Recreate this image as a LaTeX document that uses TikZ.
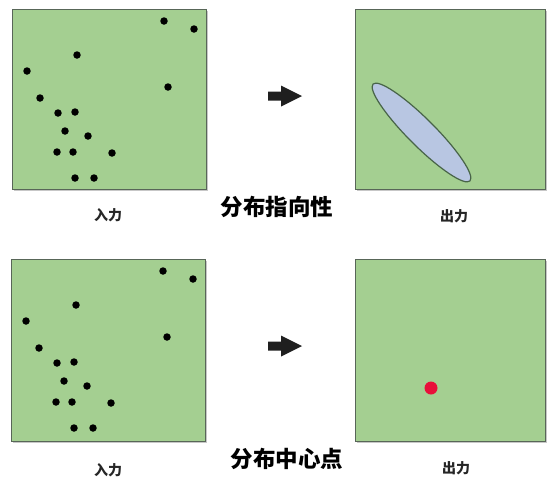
\documentclass[tikz,border=0pt]{standalone}
\usepackage{fontspec}
\newfontfamily\cjk{Noto Sans CJK SC}
\usetikzlibrary{shapes.geometric}
\definecolor{panelgreen}{RGB}{164,207,145}
\definecolor{panelborder}{RGB}{88,102,88}
\definecolor{ellfill}{RGB}{184,198,226}
\definecolor{ellborder}{RGB}{72,100,72}
\definecolor{reddot}{RGB}{232,16,58}
\begin{document}
\begin{tikzpicture}[x=1pt,y=-1pt,
  panel/.style={draw=panelborder, line width=1.4pt, fill=panelgreen, inner sep=0pt,
    minimum width=194pt, minimum height=180pt, anchor=north west},
  shade box/.style={fill=black!22},
  pt/.style={circle, fill=black, inner sep=0pt, minimum size=7.5pt},
  small/.style={font=\cjk\bfseries\fontsize{14}{16}\selectfont, text=black!85, inner sep=0pt},
  title/.style={font=\cjk\bfseries\fontsize{22.5}{26}\selectfont, inner sep=0pt},
  blockarrow/.style={fill=black!88}]
\useasboundingbox (0,0) rectangle (547,491);
\fill[white] (0,0) rectangle (547,491);
% shadows
\fill[shade box] (14,11) rectangle (208,191);
\fill[shade box] (357,11) rectangle (547,191);
\fill[shade box] (13,261) rectangle (207,443);
\fill[shade box] (357,261) rectangle (547,443);
% panels
\node[panel] (in1) at (12,9) {};
\node[panel, minimum width=190pt] (out1) at (355,9) {};
\node[panel, minimum height=182pt] (in2) at (11,259) {};
\node[panel, minimum width=190pt, minimum height=182pt] (out2) at (355,259) {};
% dots
\foreach \x/\y [count=\i] in {164/21,194/29,77/55,27/71,168/87,40/98,58/113,75/112,65/131,88/136,57/152,73/152,112/153,75/178,94/178}{
  \node[pt] (a\i) at (\x,\y) {};
  \node[pt] (b\i) at (\x-1,{\y+250}) {};
}
% ellipse
\node[ellipse, draw=ellborder, fill=ellfill, line width=1.2pt, inner sep=0pt,
  minimum width=137pt, minimum height=27pt, rotate=-45] (ell) at (421.5,132.5) {};
% red centre
\node[circle, fill=reddot, inner sep=0pt, minimum size=13pt] (ctr) at (431,388) {};
% arrows
\fill[blockarrow] (268,91.5) -- (281,91.5) -- (281,85.5) -- (302,96) -- (281,106.5) -- (281,100.5) -- (268,100.5) -- cycle;
\fill[blockarrow] (268,341.5) -- (281,341.5) -- (281,335.5) -- (302,346) -- (281,356.5) -- (281,350.5) -- (268,350.5) -- cycle;
% labels
\node[small] (l1) at (108,215) {入力};
\node[small] (l2) at (454,216) {出力};
\node[small] (l3) at (108,470) {入力};
\node[small] (l4) at (456,468) {出力};
\node[title] (t1) at (277,207) {分布指向性};
\node[title] (t2) at (287,459) {分布中心点};
\end{tikzpicture}
\end{document}
